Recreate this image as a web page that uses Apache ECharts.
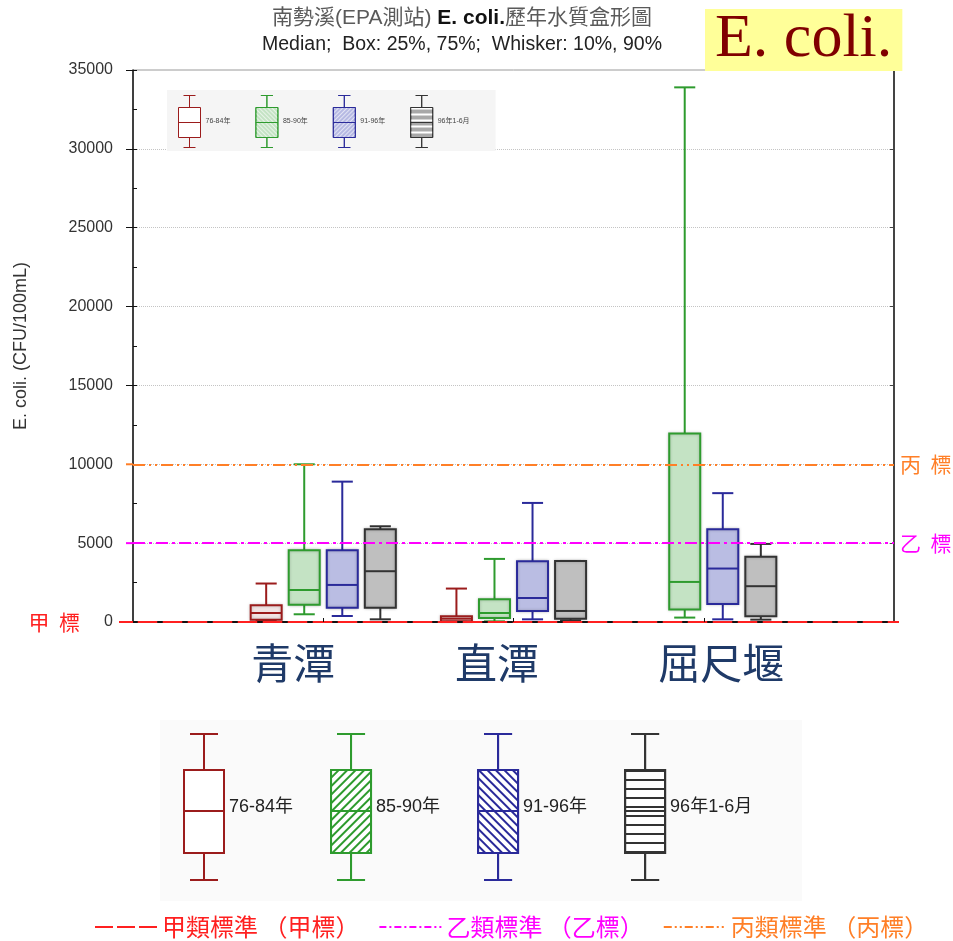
<!DOCTYPE html>
<html>
<head>
<meta charset="utf-8">
<title>南勢溪 E. coli. 歷年水質盒形圖</title>
<script src="https://cdn.jsdelivr.net/npm/echarts@6/dist/echarts.min.js"></script>
<style>
  html, body { margin: 0; padding: 0; background: #ffffff; }
  #chart { width: 953px; height: 941px; }
</style>
</head>
<body>
<div id="chart"></div>
<script>
// ---- data ----------------------------------------------------------------
const SITES = ['青潭', '直潭', '屈尺堰'];
const PERIODS = ['76-84年', '85-90年', '91-96年', '96年1-6月'];

// [P10, P25, median, P75, P90] per site (CFU/100mL); null = no samples
const STATS_76_84 = [[60, 150, 570, 1060, 2440], [10, 40, 210, 360, 2120], null];
const STATS_85_90 = [[490, 1100, 2030, 4550, 10000], [40, 250, 570, 1440, 4000], [280, 800, 2540, 11950, 33900]];
const STATS_91_96 = [[380, 910, 2350, 4550, 8900], [170, 700, 1520, 3850, 7550], [170, 1140, 3390, 5880, 8170]];
const STATS_96_H1 = [[170, 910, 3220, 5880, 6070], [100, 210, 700, 3870, 3870], [150, 360, 2270, 4130, 4950]];

const Y_TICKS = [0, 5000, 10000, 15000, 20000, 25000, 30000, 35000];

const STANDARD_NAMES = ['甲類標準 （甲標）', '乙類標準 （乙標）', '丙類標準 （丙標）'];
const STANDARD_TAGS = ['甲  標', '乙  標', '丙  標'];
const STANDARD_LIMITS = [0, 5000, 10000];

// ---- styling ---------------------------------------------------------------
const ALL_STATS = [STATS_76_84, STATS_85_90, STATS_91_96, STATS_96_H1];
const LATIN = '"Liberation Sans", Arial, "Noto Sans CJK TC", sans-serif';
const CJK = '"Noto Sans CJK TC", "Noto Sans CJK SC", sans-serif';

const PERIOD_STYLE = [
  { stroke: '#9b1c1c', fill: 'rgba(190,90,90,0.13)', keyFill: '#ffffff', keyDecal: null,
    insetFill: '#ffffff', insetDecal: null },
  { stroke: '#2e9b2e', fill: '#c4e3c4', keyFill: '#ffffff',
    keyDecal: { symbol: 'rect', symbolSize: 1, dashArrayX: [1, 0], dashArrayY: [1.5, 4], rotation: -Math.PI / 4, color: '#2e9b2e' },
    insetFill: '#c4e3c4',
    insetDecal: { symbol: 'rect', symbolSize: 1, dashArrayX: [1, 0], dashArrayY: [1, 2], rotation: Math.PI / 4, color: 'rgba(255,255,255,0.6)' } },
  { stroke: '#2a2a9a', fill: '#babde3', keyFill: '#ffffff',
    keyDecal: { symbol: 'rect', symbolSize: 1, dashArrayX: [1, 0], dashArrayY: [1.5, 4], rotation: Math.PI / 4, color: '#2a2a9a' },
    insetFill: '#b6b9e3',
    insetDecal: { symbol: 'rect', symbolSize: 1, dashArrayX: [1, 0], dashArrayY: [1, 2], rotation: -Math.PI / 4, color: 'rgba(255,255,255,0.6)' } },
  { stroke: '#333333', fill: '#bfbfbf', keyFill: '#ffffff',
    keyDecal: { symbol: 'rect', symbolSize: 1, dashArrayX: [1, 0], dashArrayY: [1.5, 6.5], rotation: 0, color: '#333333' },
    insetFill: '#a8a8a8',
    insetDecal: { symbol: 'rect', symbolSize: 1, dashArrayX: [1, 0], dashArrayY: [1.5, 4], rotation: 0, color: '#ffffff' } }
];

const STANDARD_STYLE = [
  { color: '#ff2020', dash: 'solid', keyDash: [18, 4] },
  { color: '#ff00ff', dash: [12, 4, 3, 4], keyDash: [7, 3, 2, 3] },
  { color: '#ff7f27', dash: [12, 4, 2, 4, 2, 4], keyDash: [8, 3, 2, 3, 2, 3] }
];

// box-and-whisker glyphs for the two keys
const KEY_ICON = 'path://M6,0H34M20,0V36M0,36H40V119H0ZM0,77H40M20,119V146M6,146H34';
const INSET_ICON = 'path://M5,0H17M11,0V12M0,12H22V42H0ZM0,27H22M11,42V52M5,52H17';

// ---- box renderer: one custom series per period, slotted around each site ----
function boxRenderer(slot, st) {
  return function (params, api) {
    const site = api.value(0);
    const x0 = api.coord([site, 0])[0];
    const unit = api.coord([site + 1, 0])[0] - x0;
    const cx = x0 + (slot - (PERIODS.length - 1) / 2) * unit * 0.2;
    const half = unit * 0.0815;
    const capHalf = half * 0.68;
    const y = (dim) => api.coord([site, api.value(dim)])[1];
    const yLo = y(1), yQ1 = y(2), yMed = y(3), yQ3 = y(4), yHi = y(5);
    const seg = (x1, y1, x2, y2) => ({
      type: 'line', shape: { x1, y1, x2, y2 },
      style: { stroke: st.stroke, lineWidth: 2 }
    });
    return {
      type: 'group',
      children: [
        seg(cx, yHi, cx, yQ3),
        seg(cx, yQ1, cx, yLo),
        seg(cx - capHalf, yHi, cx + capHalf, yHi),
        seg(cx - capHalf, yLo, cx + capHalf, yLo),
        {
          type: 'rect',
          shape: { x: cx - half, y: yQ3, width: half * 2, height: yQ1 - yQ3 },
          style: { fill: st.fill, stroke: st.stroke, lineWidth: 2,
                   shadowBlur: 3, shadowColor: 'rgba(0,0,0,0.22)' }
        },
        seg(cx - half, yMed, cx + half, yMed)
      ]
    };
  };
}

const boxSeries = PERIODS.map((name, k) => ({
  type: 'custom',
  name,
  xAxisIndex: 0,
  yAxisIndex: 0,
  z: 2,
  itemStyle: { color: PERIOD_STYLE[k].fill, borderColor: PERIOD_STYLE[k].stroke },
  renderItem: boxRenderer(k, PERIOD_STYLE[k]),
  encode: { x: 0, y: [1, 2, 3, 4, 5] },
  data: ALL_STATS[k]
    .map((s, i) => (s ? [i + 1].concat(s) : null))
    .filter(Boolean)
}));

const standardSeries = STANDARD_NAMES.map((name, i) => ({
  type: 'line',
  name,
  data: [],
  symbol: 'none',
  z: 4,
  lineStyle: { color: STANDARD_STYLE[i].color, width: 2, type: STANDARD_STYLE[i].keyDash },
  itemStyle: { color: STANDARD_STYLE[i].color },
  markLine: {
    silent: true,
    symbol: 'none',
    animation: false,
    lineStyle: { color: STANDARD_STYLE[i].color, width: 2, type: STANDARD_STYLE[i].dash },
    label: {
      show: true,
      position: i === 0 ? 'start' : 'end',
      distance: i === 0 ? 53 : 6,
      formatter: STANDARD_TAGS[i],
      color: STANDARD_STYLE[i].color,
      fontSize: 21,
      fontFamily: CJK
    },
    emphasis: { disabled: true },
    data: [{ yAxis: STANDARD_LIMITS[i] }]
  }
}));

const yMin = Y_TICKS[0];
const yMax = Y_TICKS[Y_TICKS.length - 1];
const yStep = Y_TICKS[1] - Y_TICKS[0];

const siteRich = {
  s0: { fontSize: 42, color: '#1f3a68', fontFamily: CJK, padding: [0, 60, 0, 0] },
  s1: { fontSize: 42, color: '#1f3a68', fontFamily: CJK, padding: [0, 33, 0, 0] },
  s2: { fontSize: 42, color: '#1f3a68', fontFamily: CJK, padding: [0, 0, 0, 35] }
};

const chart = echarts.init(document.getElementById('chart'), null, { renderer: 'canvas' });

chart.setOption({
  animation: false,
  backgroundColor: '#ffffff',
  title: [
    {
      left: 457,
      top: 3,
      textAlign: 'center',
      text: '{g|南勢溪(EPA測站) }{b|E. coli.}{g|歷年水質盒形圖}',
      textStyle: {
        fontWeight: 'normal',
        rich: {
          g: { fontSize: 21, color: '#5a5a5a', fontWeight: 'normal', fontFamily: LATIN },
          b: { fontSize: 21, color: '#111111', fontWeight: 'bold', fontFamily: LATIN }
        }
      },
      subtext: 'Median;  Box: 25%, 75%;  Whisker: 10%, 90%',
      subtextStyle: { fontSize: 19.5, color: '#222222', fontFamily: LATIN },
      itemGap: 6
    },
    {
      left: 705,
      top: 10,
      text: 'E. coli.',
      padding: [0, 10, 0, 10],
      backgroundColor: '#ffff99',
      textStyle: {
        fontFamily: '"Liberation Serif", "Times New Roman", serif',
        fontSize: 62,
        fontWeight: 'normal',
        color: '#800000',
        lineHeight: 60
      }
    }
  ],
  grid: {
    left: 133,
    right: 59,
    top: 70,
    bottom: 319,
    show: true,
    borderColor: '#9a9a9a',
    borderWidth: 1,
    backgroundColor: 'transparent'
  },
  xAxis: {
    type: 'value',
    min: 0,
    max: SITES.length + 1,
    interval: 1,
    z: 5,
    axisLine: { show: true, lineStyle: { color: '#111111', width: 2, type: [4, 21] } },
    axisTick: { show: true, inside: true, length: 4, lineStyle: { color: '#111111' } },
    splitLine: { show: false },
    axisLabel: {
      margin: 20,
      showMinLabel: false,
      showMaxLabel: false,
      formatter: (v) => {
        const i = Math.round(v) - 1;
        return i >= 0 && i < SITES.length ? '{s' + i + '|' + SITES[i] + '}' : '';
      },
      rich: siteRich
    }
  },
  yAxis: [
    {
      type: 'value',
      min: yMin,
      max: yMax,
      interval: yStep,
      name: 'E. coli. (CFU/100mL)',
      nameLocation: 'middle',
      nameGap: 103,
      nameTextStyle: { fontSize: 18, color: '#333333', fontFamily: LATIN },
      axisLine: { show: true, lineStyle: { color: '#111111', width: 1.5 } },
      axisTick: { show: true, inside: false, length: 7, lineStyle: { color: '#111111' } },
      axisLabel: {
        margin: 20, fontSize: 16, color: '#333333', fontFamily: LATIN,
        formatter: (v) => String(v)
      },
      splitLine: {
        show: true,
        showMinLine: false,
        showMaxLine: false,
        lineStyle: { color: '#c4c4c4', type: 'dotted', width: 1 }
      }
    },
    {
      // inner half-step ticks on the left frame
      type: 'value',
      position: 'left',
      min: yMin,
      max: yMax,
      interval: yStep / 2,
      axisLine: { show: false },
      axisTick: { show: true, inside: true, length: 4, lineStyle: { color: '#111111' } },
      axisLabel: { show: false },
      splitLine: { show: false }
    },
    {
      // right frame
      type: 'value',
      position: 'right',
      min: yMin,
      max: yMax,
      interval: yStep,
      axisLine: { show: true, lineStyle: { color: '#444444', width: 2 } },
      axisTick: { show: true, inside: true, length: 4, lineStyle: { color: '#444444' } },
      axisLabel: { show: false },
      splitLine: { show: false }
    }
  ],
  legend: [
    {
      // small key inside the plot
      left: 167,
      top: 90,
      padding: [5, 26, 3, 11],
      backgroundColor: '#f5f5f5',
      itemWidth: 22,
      itemHeight: 52,
      itemGap: 25,
      selectedMode: false,
      icon: INSET_ICON,
      textStyle: { fontSize: 7, color: '#444444', fontFamily: LATIN },
      data: PERIODS.map((name, k) => ({
        name,
        itemStyle: Object.assign(
          { color: PERIOD_STYLE[k].insetFill, borderColor: PERIOD_STYLE[k].stroke, borderWidth: 1 },
          PERIOD_STYLE[k].insetDecal ? { decal: PERIOD_STYLE[k].insetDecal } : {}
        )
      }))
    },
    {
      // large key below the chart
      left: 160,
      top: 720,
      padding: [13, 50, 20, 23],
      backgroundColor: '#fafafa',
      itemWidth: 40,
      itemHeight: 146,
      itemGap: 37,
      selectedMode: false,
      icon: KEY_ICON,
      textStyle: { fontSize: 18, color: '#222222', fontFamily: LATIN },
      data: PERIODS.map((name, k) => ({
        name,
        itemStyle: Object.assign(
          { color: PERIOD_STYLE[k].keyFill, borderColor: PERIOD_STYLE[k].stroke, borderWidth: 2 },
          PERIOD_STYLE[k].keyDecal ? { decal: PERIOD_STYLE[k].keyDecal } : {}
        )
      }))
    },
    {
      // water-quality standard lines
      left: 89,
      top: 910,
      itemWidth: 62,
      itemHeight: 14,
      itemGap: 19,
      selectedMode: false,
      itemStyle: { opacity: 0 },
      textStyle: { fontSize: 24, fontFamily: CJK },
      data: STANDARD_NAMES.map((name, i) => ({
        name,
        lineStyle: { color: STANDARD_STYLE[i].color, width: 2, type: STANDARD_STYLE[i].keyDash },
        textStyle: { color: STANDARD_STYLE[i].color }
      }))
    }
  ],
  series: boxSeries.concat(standardSeries)
});

// short colored stubs where the standard lines cross the outer ticks
const stubs = [];
STANDARD_LIMITS.forEach((v, i) => {
  const left = chart.convertToPixel({ gridIndex: 0 }, [0, v]);
  const right = chart.convertToPixel({ gridIndex: 0 }, [SITES.length + 1, v]);
  stubs.push({
    type: 'line', silent: true, z: 10,
    shape: { x1: left[0] - (i === 0 ? 14 : 7), y1: left[1], x2: left[0], y2: left[1] },
    style: { stroke: STANDARD_STYLE[i].color, lineWidth: 2 }
  });
  if (i === 0) {
    stubs.push({
      type: 'line', silent: true, z: 10,
      shape: { x1: right[0], y1: right[1], x2: right[0] + 5, y2: right[1] },
      style: { stroke: STANDARD_STYLE[i].color, lineWidth: 2 }
    });
  }
});
chart.setOption({ graphic: stubs });
</script>
</body>
</html>
